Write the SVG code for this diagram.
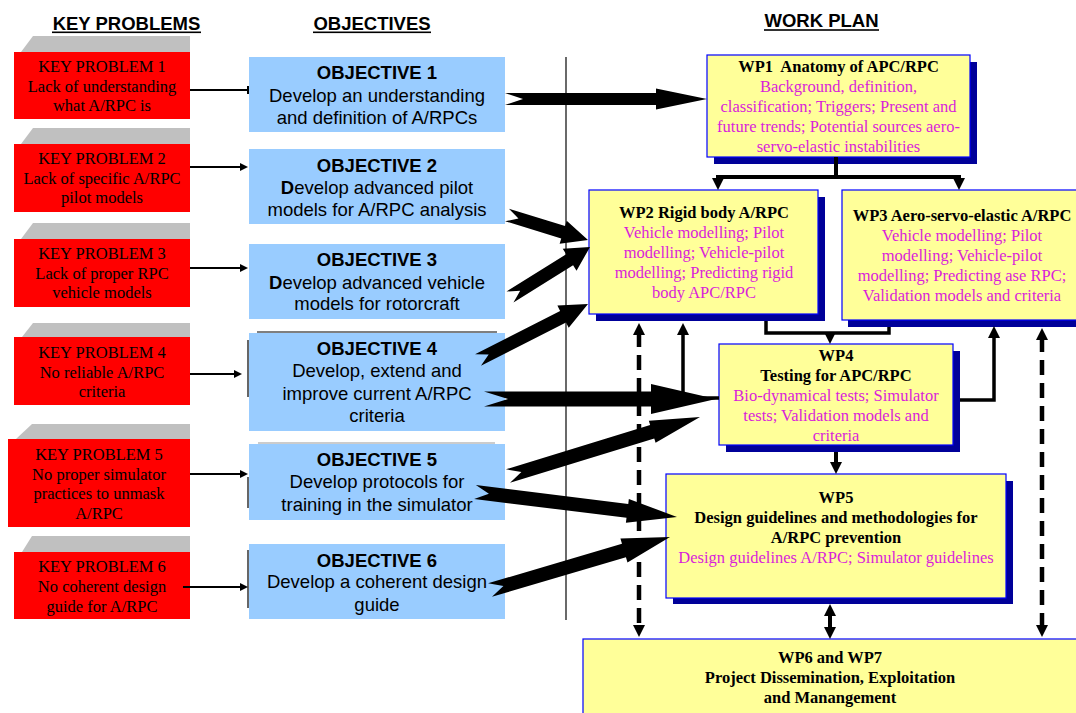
<svg xmlns="http://www.w3.org/2000/svg" width="1076" height="713" viewBox="0 0 1076 713">
<style>
.hd{font-family:"Liberation Sans",Arial,sans-serif;font-size:18.5px;font-weight:bold;fill:#000;text-anchor:middle}
.kpt{font-family:"Liberation Serif","Times New Roman",serif;font-size:16.5px;fill:#000;text-anchor:middle}
.obt{font-family:"Liberation Sans",Arial,sans-serif;font-size:18.5px;fill:#000;text-anchor:middle}
.wpt{font-family:"Liberation Serif","Times New Roman",serif;font-size:16.5px;fill:#000;text-anchor:middle}
.b{font-weight:bold}
.mg{fill:#D91ED9}
.red{fill:#FF0000}
.gry{fill:#C0C0C0}
.obj{fill:#99CCFF}
.wpbox{fill:#FFFF99;stroke:#0000FF;stroke-width:1.2}
.shd{fill:#000099}
.thin{stroke:#000;stroke-width:2;fill:none}
.thk{stroke:#000;stroke-width:4;fill:none}
.thk3{stroke:#000;stroke-width:3.5;fill:none}
.dash{stroke:#000;stroke-width:4.5;fill:none;stroke-dasharray:15 8}
.blk{fill:#000}
</style>
<defs>
<marker id="ah" viewBox="0 0 12 12" refX="3" refY="6" markerWidth="12" markerHeight="12" markerUnits="userSpaceOnUse" orient="auto-start-reverse"><path d="M0,0 L12,6 L0,12 z" fill="#000"/></marker>
<marker id="sah" viewBox="0 0 8 8" refX="2" refY="4" markerWidth="8" markerHeight="8" markerUnits="userSpaceOnUse" orient="auto"><path d="M0,0 L8,4 L0,8 z" fill="#000"/></marker>
</defs>
<rect width="1076" height="713" fill="#fff"/>

<g id="headers">
<text class="hd" x="126.5" y="29.5">KEY PROBLEMS</text>
<rect x="52" y="31.5" width="149" height="1.6" fill="#000"/>
<text class="hd" x="372" y="29.5">OBJECTIVES</text>
<rect x="313" y="31.5" width="118" height="1.6" fill="#000"/>
<text class="hd" x="821.5" y="27">WORK PLAN</text>
<rect x="764" y="29.2" width="115" height="1.6" fill="#000"/>
</g>

<line id="divider" x1="566" y1="57" x2="566" y2="620" stroke="#444" stroke-width="1.6"/>

<g id="kp1">
<polygon class="gry" points="21,52 33,36 190,36 190,52"/>
<rect class="red" x="14" y="52" width="176" height="67"/>
<text class="kpt" x="102" y="72">KEY PROBLEM 1</text>
<text class="kpt" x="102" y="92">Lack of understanding</text>
<text class="kpt" x="102" y="111">what A/RPC is</text>
</g>
<g id="kp2">
<polygon class="gry" points="21,144 33,128 190,128 190,144"/>
<rect class="red" x="14" y="144" width="176" height="68"/>
<text class="kpt" x="102" y="164">KEY PROBLEM 2</text>
<text class="kpt" x="102" y="184">Lack of specific A/RPC</text>
<text class="kpt" x="102" y="203">pilot models</text>
</g>
<g id="kp3">
<polygon class="gry" points="21,239 33,223 190,223 190,239"/>
<rect class="red" x="14" y="239" width="176" height="68"/>
<text class="kpt" x="102" y="259">KEY PROBLEM 3</text>
<text class="kpt" x="102" y="279">Lack of proper RPC</text>
<text class="kpt" x="102" y="298">vehicle models</text>
</g>
<g id="kp4">
<polygon class="gry" points="22,337 33,323 190,323 190,337"/>
<rect class="red" x="14" y="337" width="176" height="68"/>
<text class="kpt" x="102" y="358">KEY PROBLEM 4</text>
<text class="kpt" x="102" y="378">No reliable A/RPC</text>
<text class="kpt" x="102" y="397">criteria</text>
</g>
<g id="kp5">
<polygon class="gry" points="16,439 32,424 190,424 190,439"/>
<rect class="red" x="8" y="439" width="182" height="88"/>
<text class="kpt" x="99" y="460">KEY PROBLEM 5</text>
<text class="kpt" x="99" y="480">No proper simulator</text>
<text class="kpt" x="99" y="499">practices to unmask</text>
<text class="kpt" x="99" y="519">A/RPC</text>
</g>
<g id="kp6">
<polygon class="gry" points="22,552 32,536 190,536 190,552"/>
<rect class="red" x="14" y="552" width="176" height="67"/>
<text class="kpt" x="102" y="572">KEY PROBLEM 6</text>
<text class="kpt" x="102" y="592">No coherent design</text>
<text class="kpt" x="102" y="612">guide for A/RPC</text>
</g>

<g id="obj-frames" stroke="#000" stroke-width="1.2" fill="none">
<line x1="257" y1="332" x2="497" y2="332"/>
<line x1="248" y1="340" x2="248" y2="397"/>
<line x1="258" y1="443" x2="495" y2="443" stroke="#999"/>
<line x1="248" y1="477" x2="248" y2="508"/>
<line x1="248" y1="550" x2="248" y2="608"/>
</g>

<g id="obj1">
<rect class="obj" x="249" y="57" width="256" height="75"/>
<text class="obt b" x="377" y="79">OBJECTIVE 1</text>
<text class="obt" x="377" y="102">Develop an understanding</text>
<text class="obt" x="377" y="124">and definition of A/RPCs</text>
</g>
<g id="obj2">
<rect class="obj" x="249" y="149" width="256" height="75"/>
<text class="obt b" x="377" y="172">OBJECTIVE 2</text>
<text class="obt" x="377" y="194"><tspan class="b">D</tspan>evelop advanced pilot</text>
<text class="obt" x="377" y="216">models for A/RPC analysis</text>
</g>
<g id="obj3">
<rect class="obj" x="249" y="244" width="256" height="75"/>
<text class="obt b" x="377" y="266">OBJECTIVE 3</text>
<text class="obt" x="377" y="289"><tspan class="b">D</tspan>evelop advanced vehicle</text>
<text class="obt" x="377" y="310">models for rotorcraft</text>
</g>
<g id="obj4">
<rect class="obj" x="249" y="333" width="256" height="98"/>
<text class="obt b" x="377" y="355">OBJECTIVE 4</text>
<text class="obt" x="377" y="377">Develop, extend and</text>
<text class="obt" x="377" y="400">improve current A/RPC</text>
<text class="obt" x="377" y="422">criteria</text>
</g>
<g id="obj5">
<rect class="obj" x="249" y="444" width="256" height="76"/>
<text class="obt b" x="377" y="466">OBJECTIVE 5</text>
<text class="obt" x="377" y="488">Develop protocols for</text>
<text class="obt" x="377" y="511">training in the simulator</text>
</g>
<g id="obj6">
<rect class="obj" x="249" y="544" width="256" height="75"/>
<text class="obt b" x="377" y="567">OBJECTIVE 6</text>
<text class="obt" x="377" y="588">Develop a coherent design</text>
<text class="obt" x="377" y="611">guide</text>
</g>

<g id="wp1">
<rect class="shd" x="714" y="62" width="263" height="102"/>
<rect class="wpbox" x="707" y="55" width="263" height="102"/>
<text class="wpt b" x="838.5" y="72">WP1&#160; Anatomy of APC/RPC</text>
<text class="wpt mg" x="838.5" y="92">Background, definition,</text>
<text class="wpt mg" x="838.5" y="112">classification; Triggers; Present and</text>
<text class="wpt mg" x="838.5" y="132">future trends; Potential sources aero-</text>
<text class="wpt mg" x="838.5" y="152">servo-elastic instabilities</text>
</g>
<g id="wp2">
<rect class="shd" x="596" y="197" width="229" height="124"/>
<rect class="wpbox" x="589" y="190" width="229" height="124"/>
<text class="wpt b" x="704" y="218">WP2 Rigid body A/RPC</text>
<text class="wpt mg" x="704" y="238">Vehicle modelling; Pilot</text>
<text class="wpt mg" x="704" y="258">modelling; Vehicle-pilot</text>
<text class="wpt mg" x="704" y="278">modelling; Predicting rigid</text>
<text class="wpt mg" x="704" y="298">body APC/RPC</text>
</g>
<g id="wp3">
<rect class="shd" x="848" y="197" width="240" height="130"/>
<rect class="wpbox" x="842" y="190" width="240" height="130"/>
<text class="wpt b" x="962" y="221">WP3 Aero-servo-elastic A/RPC</text>
<text class="wpt mg" x="962" y="241">Vehicle modelling; Pilot</text>
<text class="wpt mg" x="962" y="261">modelling; Vehicle-pilot</text>
<text class="wpt mg" x="962" y="281">modelling; Predicting ase RPC;</text>
<text class="wpt mg" x="962" y="301">Validation models and criteria</text>
</g>
<g id="wp4">
<rect class="shd" x="726" y="351" width="234" height="101"/>
<rect class="wpbox" x="719" y="344" width="234" height="101"/>
<text class="wpt b" x="836" y="361">WP4</text>
<text class="wpt b" x="836" y="381">Testing for APC/RPC</text>
<text class="wpt mg" x="836" y="401">Bio-dynamical tests; Simulator</text>
<text class="wpt mg" x="836" y="421">tests; Validation models and</text>
<text class="wpt mg" x="836" y="441">criteria</text>
</g>
<g id="wp5">
<rect class="shd" x="673" y="481" width="340" height="123"/>
<rect class="wpbox" x="666" y="474" width="340" height="124"/>
<text class="wpt b" x="836" y="503">WP5</text>
<text class="wpt b" x="836" y="523">Design guidelines and methodologies for</text>
<text class="wpt b" x="836" y="543">A/RPC prevention</text>
<text class="wpt mg" x="836" y="563">Design guidelines A/RPC; Simulator guidelines</text>
</g>
<g id="wp6">
<rect class="wpbox" x="583" y="639" width="500" height="80"/>
<text class="wpt b" x="830" y="663">WP6 and WP7</text>
<text class="wpt b" x="830" y="683">Project Dissemination, Exploitation</text>
<text class="wpt b" x="830" y="703">and Manangement</text>
</g>

<g id="connectors">
<path class="thin" d="M190,90 H248 M248,86 V94"/>
<path class="thin" d="M190,167 H242" marker-end="url(#sah)"/>
<path class="thin" d="M190,268 H242" marker-end="url(#sah)"/>
<path class="thin" d="M190,374 H236" marker-end="url(#sah)"/>
<path class="thin" d="M190,474 H242" marker-end="url(#sah)"/>
<path class="thin" d="M183,587 H242" marker-end="url(#sah)"/>
<polygon class="blk" points="505,93 656,93 656,88.5 707,99 656,109.5 656,105 505,105 523,99"/>
<polygon class="blk" points="505.08,221.21 561.24,238.54 559.62,243.8 588,240 566.7,220.86 565.08,226.12 508.92,208.79 518.47,218.54"/>
<polygon class="blk" points="513.45,302.51 573.1,265.23 576.54,270.74 590,247 562.76,248.7 566.2,254.21 506.55,291.49 520.18,290.64"/>
<polygon class="blk" points="480.95,365.79 566,322.49 568.72,327.84 588,304 557.38,305.56 560.1,310.91 475.05,354.21 488.69,354.56"/>
<polygon class="blk" points="484,391.5 651,391.5 651,384 716,399 651,414 651,406.5 484,406.5 508,399"/>
<polygon class="blk" points="510.06,482.69 654.26,438.38 655.58,442.68 700,417 648.82,420.7 650.14,425 505.94,469.31 521.38,471.89"/>
<polygon class="blk" points="474.14,498.95 626.52,517.81 625.91,522.77 677,517 628.85,498.95 628.24,503.91 475.86,485.05 488.89,493.72"/>
<polygon class="blk" points="491.98,596.72 625.93,557.28 627.48,562.55 670,537 620.42,538.57 621.97,543.84 488.02,583.28 503.43,586.04"/>
<path class="thk" d="M836,157 V177"/>
<path class="thk" d="M718,181 V177 H959 V181" marker-start="url(#ah)" marker-end="url(#ah)"/>
<path class="thk3" d="M766,321 V333 H889 V327"/>
<path class="thk" d="M830,333 V335" marker-end="url(#ah)"/>
<path class="thk3" d="M719,398 H683 V332" marker-end="url(#ah)"/>
<path class="thk3" d="M960,400 H994 V335" marker-end="url(#ah)"/>
<path class="thk" d="M836,452 V465" marker-end="url(#ah)"/>
<path class="thk" d="M830,613 V630" marker-start="url(#ah)" marker-end="url(#ah)"/>
<path class="dash" d="M639,332 V628" marker-start="url(#ah)" marker-end="url(#ah)"/>
<path class="dash" d="M1042,337 V628" marker-start="url(#ah)" marker-end="url(#ah)"/>
</g>
</svg>
